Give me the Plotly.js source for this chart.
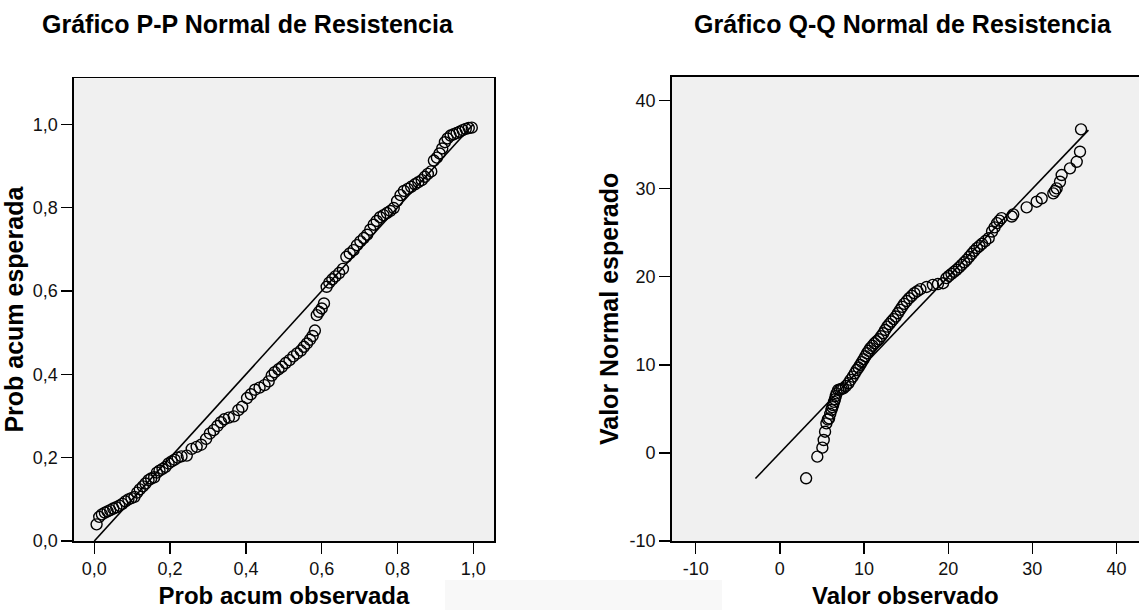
<!DOCTYPE html>
<html>
<head>
<meta charset="utf-8">
<script src="https://cdn.plot.ly/plotly-3.0.1.min.js"></script>
<style>
  html, body { margin: 0; padding: 0; background: #ffffff; }
  #chart { width: 1139px; height: 610px; }
</style>
</head>
<body>
<div id="chart"></div>
<script>
// P-P: observed vs expected cumulative probability
const ppObserved = [
  0.006, 0.013, 0.020, 0.028, 0.035, 0.042, 0.050, 0.058, 0.066, 0.074,
  0.082, 0.090, 0.098, 0.106, 0.113, 0.120, 0.128, 0.135, 0.143, 0.150,
  0.158, 0.165, 0.172, 0.180, 0.188, 0.196, 0.204, 0.212, 0.220, 0.230,
  0.244, 0.257, 0.270, 0.282, 0.295, 0.305, 0.315, 0.325, 0.334, 0.343,
  0.355, 0.368, 0.380, 0.390, 0.403, 0.413, 0.424, 0.436, 0.449, 0.460,
  0.468, 0.476, 0.486, 0.495, 0.505, 0.515, 0.525, 0.535, 0.545, 0.553,
  0.561, 0.569, 0.576, 0.582, 0.587, 0.593, 0.600, 0.606, 0.613, 0.620,
  0.628, 0.636, 0.646, 0.656, 0.665, 0.674, 0.684, 0.693, 0.702, 0.711,
  0.720, 0.728, 0.737, 0.745, 0.754, 0.763, 0.772, 0.781, 0.790, 0.799,
  0.808, 0.817, 0.827, 0.836, 0.846, 0.855, 0.864, 0.872, 0.880, 0.889,
  0.896, 0.904, 0.911, 0.918, 0.925, 0.932, 0.940, 0.948, 0.956, 0.964,
  0.972, 0.980, 0.988, 0.996
];
const ppExpected = [
  0.040, 0.058, 0.064, 0.068, 0.071, 0.074, 0.078, 0.081, 0.085, 0.089,
  0.095, 0.100, 0.103, 0.106, 0.116, 0.124, 0.131, 0.138, 0.146, 0.150,
  0.153, 0.164, 0.169, 0.173, 0.178, 0.186, 0.191, 0.195, 0.200, 0.203,
  0.205, 0.221, 0.226, 0.231, 0.245, 0.258, 0.266, 0.276, 0.285, 0.292,
  0.296, 0.299, 0.314, 0.322, 0.343, 0.352, 0.363, 0.368, 0.374, 0.383,
  0.397, 0.405, 0.412, 0.418, 0.427, 0.434, 0.443, 0.450, 0.457, 0.466,
  0.474, 0.483, 0.492, 0.505, 0.542, 0.550, 0.558, 0.570, 0.610, 0.620,
  0.628, 0.635, 0.643, 0.653, 0.682, 0.690, 0.698, 0.710, 0.719, 0.727,
  0.735, 0.747, 0.759, 0.768, 0.777, 0.782, 0.787, 0.792, 0.799, 0.816,
  0.830, 0.840, 0.845, 0.850, 0.856, 0.861, 0.866, 0.874, 0.881, 0.887,
  0.913, 0.920, 0.930, 0.942, 0.957, 0.966, 0.973, 0.976, 0.979, 0.982,
  0.986, 0.989, 0.991, 0.992
];
const ppLine = [0, 1];

// Q-Q: observed value vs expected normal value
const qqObserved = [
  3.12, 4.45, 5.05, 5.21, 5.37, 5.53, 5.70, 5.85, 5.99, 6.13,
  6.23, 6.33, 6.44, 6.54, 6.64, 6.74, 6.94, 7.14, 7.34, 7.54,
  7.84, 8.14, 8.40, 8.67, 8.90, 9.14, 9.35, 9.55, 9.75, 9.95,
  10.15, 10.35, 10.55, 10.75, 11.00, 11.24, 11.50, 11.76, 12.02, 12.28,
  12.52, 12.76, 13.00, 13.25, 13.51, 13.77, 14.03, 14.29, 14.53, 14.77,
  15.07, 15.37, 15.67, 15.98, 16.34, 16.70, 17.44, 18.18, 18.78, 19.39,
  19.79, 20.09, 20.39, 20.69, 20.99, 21.30, 21.60, 21.90, 22.20, 22.50,
  22.80, 23.10, 23.41, 23.71, 24.01, 24.41, 24.81, 25.21, 25.51, 25.81,
  26.08, 26.34, 27.55, 27.73, 29.32, 30.51, 31.11, 32.49, 32.70, 32.89,
  33.28, 33.48, 34.47, 35.27, 35.66, 35.78
];
const qqExpected = [
  -2.88, -0.42, 0.60, 1.47, 2.41, 3.36, 3.80, 3.93, 4.45, 4.88,
  5.20, 5.44, 5.80, 6.09, 6.45, 6.77, 7.15, 7.20, 7.28, 7.34,
  7.60, 7.91, 8.30, 8.67, 9.05, 9.42, 9.70, 9.99, 10.32, 10.64,
  10.98, 11.32, 11.60, 11.89, 12.17, 12.45, 12.68, 12.91, 13.25, 13.59,
  13.97, 14.35, 14.63, 14.92, 15.20, 15.49, 15.87, 16.25, 16.59, 16.93,
  17.25, 17.57, 17.85, 18.14, 18.37, 18.60, 18.85, 19.09, 19.18, 19.28,
  19.85, 20.10, 20.34, 20.57, 20.80, 21.08, 21.36, 21.65, 21.93, 22.27,
  22.61, 22.94, 23.26, 23.50, 23.75, 24.07, 24.39, 25.15, 25.62, 26.10,
  26.38, 26.67, 26.85, 27.10, 27.89, 28.53, 28.92, 29.48, 29.75, 30.05,
  30.80, 31.56, 32.32, 33.07, 34.21, 36.75
];
const qqLine = [-2.9, 36.66];

// Tick labels
const ppTickVals = [0, 0.2, 0.4, 0.6, 0.8, 1.0];
const ppTickText = ['0,0', '0,2', '0,4', '0,6', '0,8', '1,0'];
const qqXTickVals = [-10, 0, 10, 20, 30, 40];
const qqXTickText = ['-10', '0', '10', '20', '30', '40'];
const qqYTickVals = [-10, 0, 10, 20, 30, 40];
const qqYTickText = ['-10', '0', '10', '20', '30', '40'];

const FONT = 'Liberation Sans, Arial, sans-serif';
const ink = '#000000';

const markerStyle = {
  symbol: 'circle-open',
  size: 11,
  color: ink,
  line: { width: 1.4, color: ink }
};

const traces = [
  {
    x: ppLine, y: ppLine, xaxis: 'x', yaxis: 'y',
    type: 'scatter', mode: 'lines',
    line: { color: ink, width: 1.6 },
    hoverinfo: 'skip', showlegend: false
  },
  {
    x: ppObserved, y: ppExpected, xaxis: 'x', yaxis: 'y',
    type: 'scatter', mode: 'markers',
    marker: markerStyle, showlegend: false
  },
  {
    x: qqLine, y: qqLine, xaxis: 'x2', yaxis: 'y2',
    type: 'scatter', mode: 'lines',
    line: { color: ink, width: 1.6 },
    hoverinfo: 'skip', showlegend: false
  },
  {
    x: qqObserved, y: qqExpected, xaxis: 'x2', yaxis: 'y2',
    type: 'scatter', mode: 'markers',
    marker: markerStyle, showlegend: false
  }
];

const tickFont = { family: FONT, size: 18, color: '#111111' };
const xTitleFont = { family: FONT, size: 24, color: ink };
const yTitleFont = { family: FONT, size: 25, color: ink };

function axisBase(extra) {
  return Object.assign({
    showgrid: false,
    zeroline: false,
    showline: true,
    linecolor: ink,
    linewidth: 1.6,
    ticks: 'outside',
    ticklen: 11,
    tickwidth: 1.3,
    tickcolor: ink,
    tickfont: tickFont,
    tickmode: 'array',
    automargin: false,
    fixedrange: true
  }, extra);
}

const W = 1139, H = 610;
const bottomPx = 541;

const layout = {
  width: W,
  height: H,
  margin: { l: 0, r: 0, t: 0, b: 0 },
  paper_bgcolor: '#ffffff',
  plot_bgcolor: '#f0f0f0',
  showlegend: false,
  xaxis: axisBase({
    domain: [74 / W, 494 / W],
    range: [-0.0536, 1.0546],
    tickvals: ppTickVals, ticktext: ppTickText,
    mirror: true,
    anchor: 'y',
    title: { text: '<b>Prob acum observada</b>', font: xTitleFont, standoff: 9 }
  }),
  yaxis: axisBase({
    domain: [(H - bottomPx) / H, (H - 78.3) / H],
    range: [0, 1.1104],
    tickvals: ppTickVals, ticktext: ppTickText,
    mirror: true,
    anchor: 'x',
    title: { text: '<b>Prob acum esperada</b>', font: yTitleFont, standoff: 4 }
  }),
  xaxis2: axisBase({
    domain: [671.7 / W, 1],
    range: [-12.85, 42.67],
    tickvals: qqXTickVals, ticktext: qqXTickText,
    mirror: true,
    anchor: 'y2',
    title: { text: '<b>Valor observado</b>', font: xTitleFont, standoff: 9 }
  }),
  yaxis2: axisBase({
    domain: [(H - bottomPx) / H, (H - 76.7) / H],
    range: [-10, 42.73],
    tickvals: qqYTickVals, ticktext: qqYTickText,
    mirror: false,
    anchor: 'x2',
    title: { text: '<b>Valor Normal esperado</b>', font: yTitleFont, standoff: 4 }
  }),
  shapes: [
    // faint panel strip between the two axis titles
    {
      type: 'rect', xref: 'paper', yref: 'paper', layer: 'below',
      x0: 445 / W, x1: 722 / W, y0: 0, y1: 30 / H,
      fillcolor: '#f8f8f8', line: { width: 0 }
    }
  ],
  annotations: [
    {
      text: '<b>Gráfico P-P Normal de Resistencia</b>',
      xref: 'paper', yref: 'paper',
      x: 248 / W, y: (H - 24) / H,
      xanchor: 'center', yanchor: 'middle',
      showarrow: false,
      font: { family: FONT, size: 25, color: ink }
    },
    {
      text: '<b>Gráfico Q-Q Normal de Resistencia</b>',
      xref: 'paper', yref: 'paper',
      x: 903 / W, y: (H - 24) / H,
      xanchor: 'center', yanchor: 'middle',
      showarrow: false,
      font: { family: FONT, size: 25, color: ink }
    }
  ]
};

Plotly.newPlot('chart', traces, layout, { displayModeBar: false, staticPlot: true });
</script>
</body>
</html>
